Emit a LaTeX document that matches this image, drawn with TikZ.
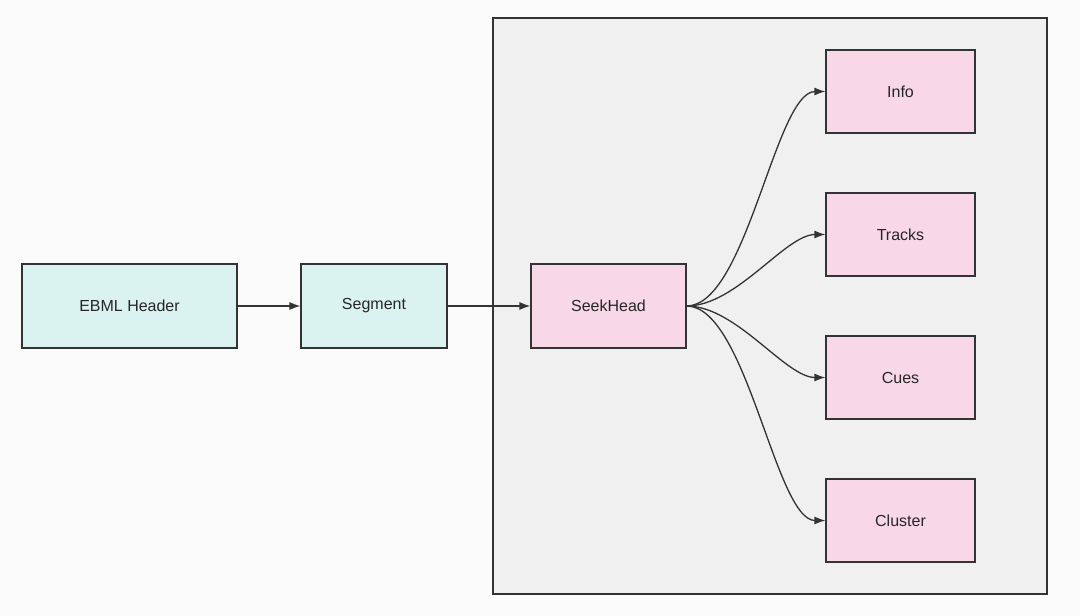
\documentclass[tikz,border=0pt]{standalone}
\usepackage{fontspec}
\setmainfont{Liberation Sans}
\usetikzlibrary{arrows.meta}
\begin{document}
\begin{tikzpicture}[x=1pt,y=-1pt,
  box/.style={draw=black!80,line width=1.2pt,minimum height=84pt,inner sep=0pt,font=\fontsize{16}{18}\selectfont,text=black!85},
  teal/.style={box,fill={rgb,255:red,218;green,242;blue,240}},
  pink/.style={box,fill={rgb,255:red,248;green,216;blue,230}},
  arr/.style={draw=black!80,line width=1.3pt,-{Latex[length=11pt,width=8pt]}}]
\fill[fill={rgb,255:red,251;green,251;blue,251}] (0,0) rectangle (1080,616);
\useasboundingbox (0,0) rectangle (1080,616);
\draw[black!80,line width=1.2pt,fill={rgb,255:red,240;green,240;blue,240}] (493,18) rectangle (1047,594);
\node[teal,minimum width=215pt] (ebml) at (129.5,306) {EBML Header};
\node[teal,minimum width=146pt] (seg) at (374,306) {Segment};
\node[pink,minimum width=155pt] (seek) at (608.5,306) {SeekHead};
\node[pink,minimum width=149pt,minimum height=83pt] (info) at (900.5,91.5) {Info};
\node[pink,minimum width=149pt,minimum height=83pt] (tracks) at (900.5,234.5) {Tracks};
\node[pink,minimum width=149pt,minimum height=83pt] (cues) at (900.5,377.5) {Cues};
\node[pink,minimum width=149pt,minimum height=83pt] (cluster) at (900.5,520.5) {Cluster};
\draw[arr] (ebml) -- (seg);
\draw[arr] (seg) -- (seek);
\draw[arr] (seek.east) .. controls +(60,0) and +(-50,0) .. (info.west);
\draw[arr] (seek.east) .. controls +(50,0) and +(-40,0) .. (tracks.west);
\draw[arr] (seek.east) .. controls +(50,0) and +(-40,0) .. (cues.west);
\draw[arr] (seek.east) .. controls +(60,0) and +(-50,0) .. (cluster.west);
\end{tikzpicture}
\end{document}
